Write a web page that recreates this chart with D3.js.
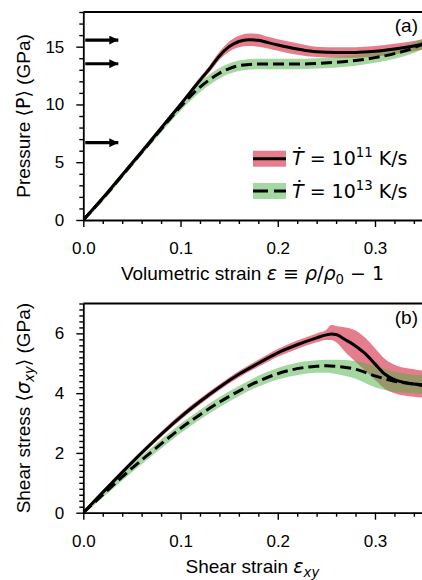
<!DOCTYPE html>
<html>
<head>
<meta charset="utf-8">
<script src="https://cdn.jsdelivr.net/npm/d3@7"></script>
<style>
body { margin: 0; background: white; }
svg { display: block; font-family: "Liberation Sans", Arial, sans-serif; }
</style>
</head>
<body>
<div class="chart"></div>
<script>
// ---- panel (a): pressure vs volumetric strain ----
const strainA11 = [0, 0.02, 0.04, 0.06, 0.08, 0.10, 0.12, 0.13, 0.14, 0.15, 0.16, 0.17, 0.18, 0.19, 0.20, 0.22, 0.24, 0.26, 0.28, 0.30, 0.32, 0.34, 0.35];
const pressure11 = [0, 1.9, 3.9, 5.9, 7.95, 10.0, 12.1, 13.1, 14.2, 15.0, 15.45, 15.6, 15.55, 15.35, 15.15, 14.8, 14.55, 14.5, 14.5, 14.6, 14.8, 15.05, 15.2];
const pressure11Lo = [-0.1, 1.75, 3.75, 5.75, 7.75, 9.8, 11.85, 12.8, 13.85, 14.55, 14.95, 15.05, 15.0, 14.85, 14.65, 14.3, 14.1, 14.05, 14.05, 14.15, 14.35, 14.6, 14.75];
const pressure11Hi = [0.1, 2.05, 4.05, 6.05, 8.15, 10.2, 12.35, 13.4, 14.55, 15.45, 15.95, 16.15, 16.1, 15.85, 15.65, 15.3, 15.0, 14.95, 14.95, 15.05, 15.25, 15.5, 15.65];

const strainA13 = [0, 0.02, 0.04, 0.06, 0.08, 0.10, 0.11, 0.12, 0.13, 0.14, 0.15, 0.16, 0.18, 0.20, 0.22, 0.24, 0.26, 0.28, 0.30, 0.32, 0.34, 0.35];
const pressure13 = [0, 1.85, 3.85, 5.85, 7.85, 9.8, 10.7, 11.5, 12.15, 12.7, 13.1, 13.35, 13.5, 13.5, 13.5, 13.55, 13.65, 13.8, 14.05, 14.4, 14.9, 15.3];
const pressure13Lo = [-0.15, 1.6, 3.6, 5.6, 7.55, 9.45, 10.3, 11.05, 11.7, 12.25, 12.65, 12.9, 13.05, 13.05, 13.05, 13.1, 13.2, 13.35, 13.6, 13.95, 14.45, 14.85];
const pressure13Hi = [0.15, 2.1, 4.1, 6.1, 8.15, 10.15, 11.1, 11.95, 12.6, 13.15, 13.55, 13.8, 13.95, 13.95, 13.95, 14.0, 14.1, 14.25, 14.5, 14.85, 15.35, 15.75];

const arrowPressures = [15.57, 13.52, 6.69];

// ---- panel (b): shear stress vs shear strain ----
const strainB11 = [0, 0.02, 0.04, 0.06, 0.08, 0.10, 0.12, 0.14, 0.16, 0.18, 0.20, 0.22, 0.24, 0.25, 0.255, 0.26, 0.27, 0.28, 0.29, 0.30, 0.31, 0.32, 0.33, 0.34, 0.35];
const shear11 = [0, 0.68, 1.35, 2.0, 2.62, 3.2, 3.72, 4.2, 4.63, 5.0, 5.35, 5.62, 5.85, 5.95, 5.98, 5.96, 5.78, 5.58, 5.32, 4.98, 4.64, 4.45, 4.36, 4.31, 4.28];
const shear11Lo = [-0.05, 0.6, 1.27, 1.92, 2.53, 3.1, 3.62, 4.1, 4.52, 4.88, 5.22, 5.48, 5.7, 5.78, 5.78, 5.7, 5.35, 5.05, 4.75, 4.45, 4.15, 4.0, 3.92, 3.88, 3.85];
const shear11Hi = [0.05, 0.76, 1.43, 2.08, 2.71, 3.3, 3.82, 4.3, 4.74, 5.12, 5.48, 5.76, 6.0, 6.12, 6.28, 6.25, 6.2, 6.1, 5.85, 5.5, 5.15, 4.95, 4.85, 4.8, 4.75];

const strainB13 = [0, 0.02, 0.04, 0.06, 0.08, 0.10, 0.12, 0.14, 0.16, 0.18, 0.20, 0.22, 0.24, 0.25, 0.26, 0.28, 0.30, 0.32, 0.34, 0.35];
const shear13 = [0, 0.6, 1.2, 1.76, 2.3, 2.82, 3.28, 3.7, 4.07, 4.4, 4.65, 4.82, 4.9, 4.92, 4.9, 4.8, 4.58, 4.4, 4.3, 4.25];
const shear13Lo = [-0.05, 0.5, 1.08, 1.62, 2.15, 2.66, 3.12, 3.53, 3.9, 4.22, 4.46, 4.6, 4.68, 4.68, 4.64, 4.48, 4.2, 4.05, 4.0, 3.98];
const shear13Hi = [0.05, 0.7, 1.32, 1.9, 2.45, 2.98, 3.44, 3.87, 4.24, 4.58, 4.84, 5.02, 5.1, 5.12, 5.12, 5.08, 4.9, 4.72, 4.62, 4.6];

const xTicks = [0, 0.1, 0.2, 0.3];
const yTicksA = [0, 5, 10, 15];
const yTicksB = [0, 2, 4, 6];

const red = "rgb(213,38,63)";
const green = "rgb(75,175,65)";
const mathFont = "DejaVu Sans";

const W = 422, H = 580;
const svg = d3.select(".chart").append("svg")
    .attr("width", W)
    .attr("height", H);

// rich text: parts = [{t, it, sub, sup, math}]
function richText(text, parts, size) {
    let shift = 0;
    parts.forEach(p => {
        const ts = text.append("tspan").text(p.t);
        if (p.math || p.it) ts.attr("font-family", mathFont);
        if (p.it) ts.attr("font-style", "italic");
        let target = 0;
        if (p.sub) { target = size * 0.22; ts.attr("font-size", size * 0.7); }
        if (p.sup) { target = -size * 0.42; ts.attr("font-size", size * 0.7); }
        ts.attr("dy", target - shift);
        shift = target;
    });
}

function drawPanel(cfg) {
    const left = 83.3, right = 423.6;
    const x = d3.scaleLinear().domain([0, 0.35]).range([left, right]);
    const y = d3.scaleLinear().domain([0, cfg.ymax]).range([cfg.bottom, cfg.top]);

    const g = svg.append("g");
    const clipId = "clip" + cfg.name;
    g.append("clipPath").attr("id", clipId)
        .append("rect")
        .attr("x", left).attr("y", cfg.top)
        .attr("width", right - left).attr("height", cfg.bottom - cfg.top);

    const plot = g.append("g").attr("clip-path", `url(#${clipId})`);

    const area = (xs, lo, hi) => d3.area()
        .x((d, i) => x(xs[i]))
        .y0((d, i) => y(lo[i]))
        .y1((d, i) => y(hi[i]))
        .curve(d3.curveMonotoneX)(xs);

    const line = (xs, ys) => d3.line()
        .x((d, i) => x(xs[i]))
        .y((d, i) => y(ys[i]))
        .curve(d3.curveMonotoneX)(xs);

    plot.append("path")
        .attr("d", area(cfg.s11.x, cfg.s11.lo, cfg.s11.hi))
        .attr("fill", red).attr("fill-opacity", 0.6);
    plot.append("path")
        .attr("d", area(cfg.s13.x, cfg.s13.lo, cfg.s13.hi))
        .attr("fill", green).attr("fill-opacity", 0.5);

    plot.append("path")
        .attr("d", line(cfg.s13.x, cfg.s13.y))
        .attr("fill", "none").attr("stroke", "black")
        .attr("stroke-width", 3).attr("stroke-dasharray", "11,5");
    plot.append("path")
        .attr("d", line(cfg.s11.x, cfg.s11.y))
        .attr("fill", "none").attr("stroke", "black")
        .attr("stroke-width", 3);

    // axes
    const xMinor = d3.range(0, 0.351, 0.02).filter(v => xTicks.every(t => Math.abs(t - v) > 1e-6));
    const yMinor = d3.range(0, cfg.ymax + 1e-6, cfg.yMinorStep).filter(v => cfg.yTicks.every(t => Math.abs(t - v) > 1e-6));

    const xAxis = g.append("g")
        .attr("transform", `translate(0,${cfg.bottom})`)
        .call(d3.axisBottom(x).tickValues(xTicks).tickFormat(d3.format(".1f"))
            .tickSize(7).tickSizeOuter(0).tickPadding(15));
    g.append("g")
        .attr("transform", `translate(0,${cfg.bottom})`)
        .call(d3.axisBottom(x).tickValues(xMinor).tickFormat("").tickSize(4).tickSizeOuter(0))
        .call(a => a.select(".domain").remove());

    const yAxis = g.append("g")
        .attr("transform", `translate(${left},0)`)
        .call(d3.axisLeft(y).tickValues(cfg.yTicks).tickFormat(d3.format("d"))
            .tickSize(7).tickSizeOuter(0).tickPadding(12));
    g.append("g")
        .attr("transform", `translate(${left},0)`)
        .call(d3.axisLeft(y).tickValues(yMinor).tickFormat("").tickSize(4).tickSizeOuter(0))
        .call(a => a.select(".domain").remove());

    g.selectAll(".tick line").attr("stroke-width", 1.4);
    g.selectAll(".domain").attr("stroke-width", 1.8);
    [xAxis, yAxis].forEach(a => a.selectAll("text")
        .attr("font-family", "Liberation Sans, Arial, sans-serif")
        .attr("font-size", 17).attr("fill", "black"));

    // top spine
    g.append("line")
        .attr("x1", left).attr("x2", right)
        .attr("y1", y(cfg.ymax)).attr("y2", y(cfg.ymax))
        .attr("stroke", "black").attr("stroke-width", 1.8);

    // axis labels
    richText(g.append("text")
        .attr("x", (left + right) / 2 - 1)
        .attr("y", cfg.bottom + 60)
        .attr("text-anchor", "middle")
        .attr("font-size", 19), cfg.xLabel, 19);

    richText(g.append("text")
        .attr("transform", `translate(30,${(cfg.top + cfg.bottom) / 2}) rotate(-90)`)
        .attr("text-anchor", "middle")
        .attr("font-size", 19), cfg.yLabel, 19);

    g.append("text")
        .attr("x", 418).attr("y", cfg.top + 20)
        .attr("text-anchor", "end")
        .attr("font-size", 19)
        .text(cfg.tag);

    return { x, y, g };
}

const panelA = drawPanel({
    name: "a", top: 12, bottom: 220, ymax: 18, yTicks: yTicksA, yMinorStep: 1, tag: "(a)",
    s11: { x: strainA11, y: pressure11, lo: pressure11Lo, hi: pressure11Hi },
    s13: { x: strainA13, y: pressure13, lo: pressure13Lo, hi: pressure13Hi },
    xLabel: [{ t: "Volumetric strain " }, { t: "ε", it: true }, { t: " ≡ ", math: true },
        { t: "ρ", it: true }, { t: "/", math: true }, { t: "ρ", it: true }, { t: "0", sub: true, math: true },
        { t: " − 1", math: true }],
    yLabel: [{ t: "Pressure " }, { t: "⟨P⟩", math: true }, { t: " (GPa)" }]
});

const panelB = drawPanel({
    name: "b", top: 303.5, bottom: 512.7, ymax: 7, yTicks: yTicksB, yMinorStep: 0.2, tag: "(b)",
    s11: { x: strainB11, y: shear11, lo: shear11Lo, hi: shear11Hi },
    s13: { x: strainB13, y: shear13, lo: shear13Lo, hi: shear13Hi },
    xLabel: [{ t: "Shear strain " }, { t: "ε", it: true }, { t: "xy", it: true, sub: true }],
    yLabel: [{ t: "Shear stress " }, { t: "⟨", math: true }, { t: "σ", it: true },
        { t: "xy", it: true, sub: true }, { t: "⟩", math: true }, { t: " (GPa)" }]
});

// arrows on the pressure axis
svg.append("defs").append("marker")
    .attr("id", "head")
    .attr("viewBox", "0 0 10 10")
    .attr("refX", 10).attr("refY", 5)
    .attr("markerUnits", "userSpaceOnUse")
    .attr("markerWidth", 15).attr("markerHeight", 9)
    .attr("orient", "auto")
    .append("path").attr("d", "M0,0 L10,5 L0,10 Z").attr("fill", "black");

panelA.g.selectAll(".arrow")
    .data(arrowPressures)
    .enter()
    .append("line")
    .attr("x1", panelA.x(0.002)).attr("x2", panelA.x(0.036))
    .attr("y1", d => panelA.y(d)).attr("y2", d => panelA.y(d))
    .attr("stroke", "black").attr("stroke-width", 3.2)
    .attr("marker-end", "url(#head)");

// legend
const legend = svg.append("g").attr("transform", "translate(253,0)");
const legendItems = [
    { color: red, op: 0.6, dash: null, cy: 158.7, exp: "11" },
    { color: green, op: 0.5, dash: "15,6", cy: 191, exp: "13" }
];
legendItems.forEach(d => {
    legend.append("rect")
        .attr("x", 0).attr("y", d.cy - 8).attr("width", 33).attr("height", 16)
        .attr("fill", d.color).attr("fill-opacity", d.op);
    legend.append("line")
        .attr("x1", 0).attr("x2", 33).attr("y1", d.cy).attr("y2", d.cy)
        .attr("stroke", "black").attr("stroke-width", 3)
        .attr("stroke-dasharray", d.dash);
    richText(legend.append("text")
        .attr("x", 39).attr("y", d.cy + 6.5)
        .attr("font-size", 19),
        [{ t: "Ṫ", it: true }, { t: " = 10", math: true }, { t: d.exp, sup: true, math: true }, { t: " K/s", math: true }], 19);
});
</script>
</body>
</html>
